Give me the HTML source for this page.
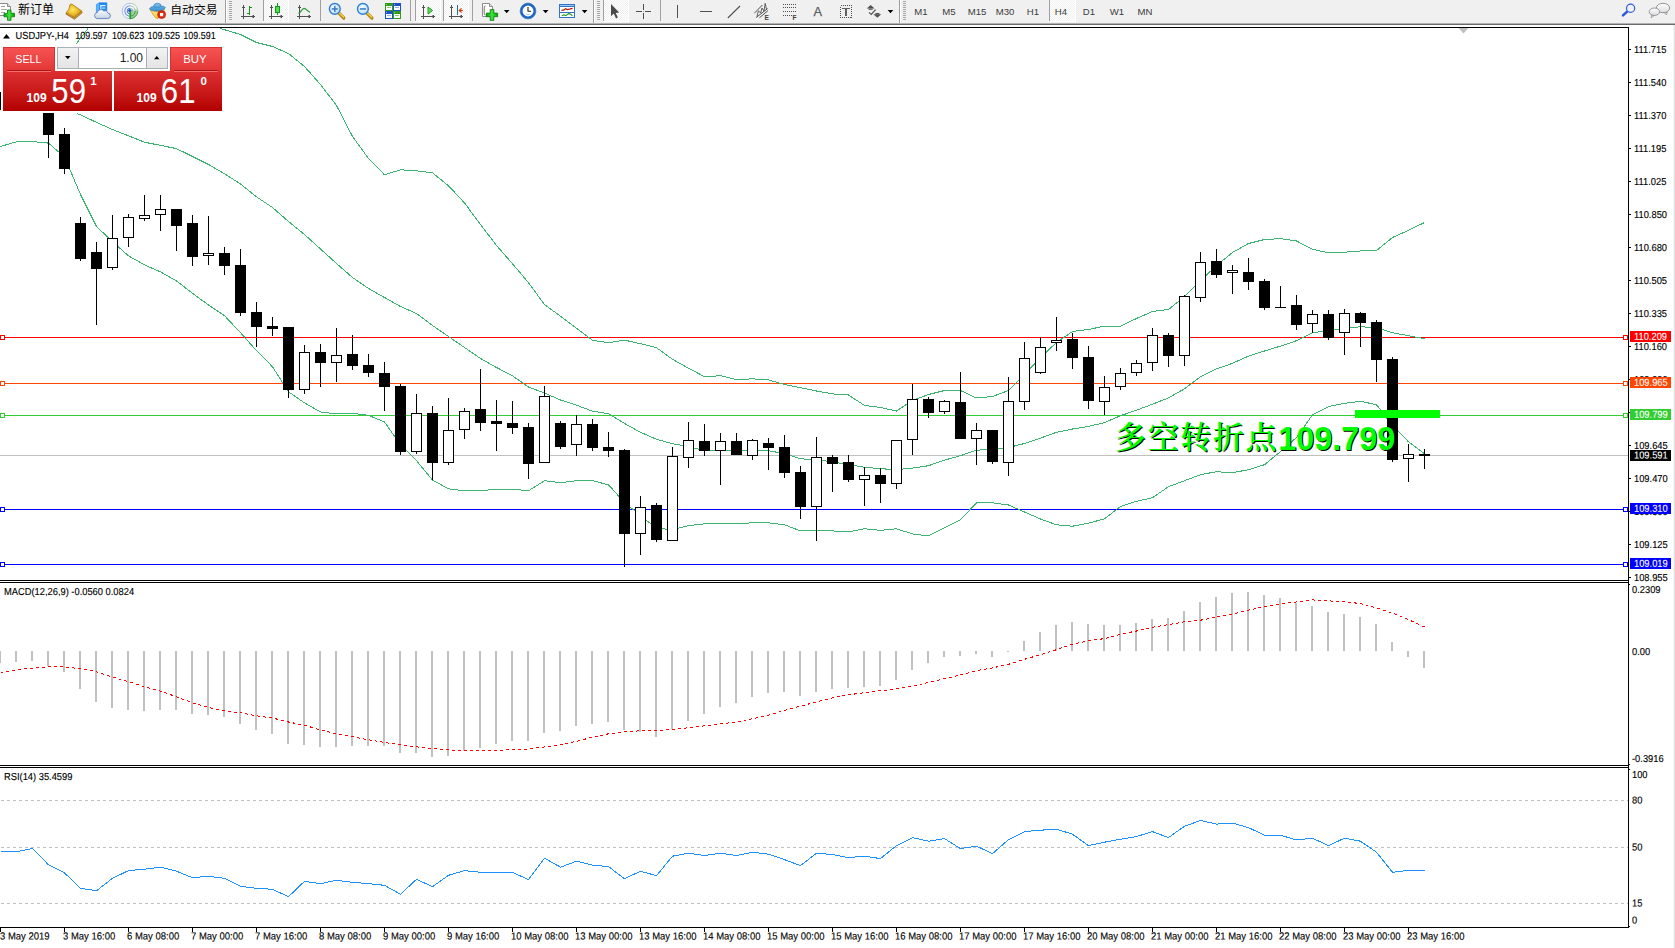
<!DOCTYPE html>
<html lang="zh"><head><meta charset="utf-8"><title>USDJPY-,H4</title>
<style>
html,body{margin:0;padding:0;background:#fff}
body{width:1675px;height:948px;overflow:hidden}
svg{display:block}
text{font-family:"Liberation Sans","Noto Sans CJK SC",sans-serif;white-space:pre}
</style></head><body>
<svg width="1675" height="948" viewBox="0 0 1675 948">
<rect x="0" y="0" width="1675" height="948" fill="#fff"/>
<defs><clipPath id="cm"><rect x="0" y="28" width="1628" height="552"/></clipPath></defs>
<g shape-rendering="crispEdges">
<rect x="0" y="27" width="1629" height="1" fill="#000"/>
<rect x="1628" y="27" width="1" height="901" fill="#000"/>
<rect x="0" y="580" width="1629" height="1" fill="#000"/>
<rect x="0" y="582" width="1629" height="1" fill="#000"/>
<rect x="0" y="765" width="1629" height="1" fill="#000"/>
<rect x="0" y="767" width="1629" height="1" fill="#000"/>
<rect x="0" y="927" width="1629" height="1" fill="#000"/>
<rect x="1629" y="584" width="1" height="1" fill="#000"/>
<rect x="1629" y="764" width="1" height="1" fill="#000"/>
<rect x="1629" y="769" width="1" height="1" fill="#000"/>
<rect x="1629" y="926" width="1" height="1" fill="#000"/>
<rect x="1673" y="25" width="1" height="923" fill="#f6f6f6"/>
<rect x="1674" y="25" width="1" height="923" fill="#e2e2e2"/>
<polygon points="1458.5,28 1468.5,28 1463.5,33.5" fill="#c0c0c0" shape-rendering="geometricPrecision"/>
<rect x="1629" y="49" width="2" height="1" fill="#000"/>
<rect x="1629" y="82" width="2" height="1" fill="#000"/>
<rect x="1629" y="115" width="2" height="1" fill="#000"/>
<rect x="1629" y="148" width="2" height="1" fill="#000"/>
<rect x="1629" y="181" width="2" height="1" fill="#000"/>
<rect x="1629" y="214" width="2" height="1" fill="#000"/>
<rect x="1629" y="247" width="2" height="1" fill="#000"/>
<rect x="1629" y="280" width="2" height="1" fill="#000"/>
<rect x="1629" y="313" width="2" height="1" fill="#000"/>
<rect x="1629" y="346" width="2" height="1" fill="#000"/>
<rect x="1629" y="379" width="2" height="1" fill="#000"/>
<rect x="1629" y="412" width="2" height="1" fill="#000"/>
<rect x="1629" y="445" width="2" height="1" fill="#000"/>
<rect x="1629" y="478" width="2" height="1" fill="#000"/>
<rect x="1629" y="511" width="2" height="1" fill="#000"/>
<rect x="1629" y="544" width="2" height="1" fill="#000"/>
<rect x="1629" y="577" width="2" height="1" fill="#000"/>
</g>
<text transform="translate(1634,53.0) rotate(0.03) scale(1,1.08)" font-size="9.33" fill="#000" stroke="#000" stroke-width="0.12" text-anchor="start">111.715</text>
<text transform="translate(1634,86.0) rotate(0.03) scale(1,1.08)" font-size="9.33" fill="#000" stroke="#000" stroke-width="0.12" text-anchor="start">111.540</text>
<text transform="translate(1634,119.0) rotate(0.03) scale(1,1.08)" font-size="9.33" fill="#000" stroke="#000" stroke-width="0.12" text-anchor="start">111.370</text>
<text transform="translate(1634,152.0) rotate(0.03) scale(1,1.08)" font-size="9.33" fill="#000" stroke="#000" stroke-width="0.12" text-anchor="start">111.195</text>
<text transform="translate(1634,185.0) rotate(0.03) scale(1,1.08)" font-size="9.33" fill="#000" stroke="#000" stroke-width="0.12" text-anchor="start">111.025</text>
<text transform="translate(1634,218.0) rotate(0.03) scale(1,1.08)" font-size="9.33" fill="#000" stroke="#000" stroke-width="0.12" text-anchor="start">110.850</text>
<text transform="translate(1634,251.0) rotate(0.03) scale(1,1.08)" font-size="9.33" fill="#000" stroke="#000" stroke-width="0.12" text-anchor="start">110.680</text>
<text transform="translate(1634,284.0) rotate(0.03) scale(1,1.08)" font-size="9.33" fill="#000" stroke="#000" stroke-width="0.12" text-anchor="start">110.505</text>
<text transform="translate(1634,317.0) rotate(0.03) scale(1,1.08)" font-size="9.33" fill="#000" stroke="#000" stroke-width="0.12" text-anchor="start">110.335</text>
<text transform="translate(1634,350.0) rotate(0.03) scale(1,1.08)" font-size="9.33" fill="#000" stroke="#000" stroke-width="0.12" text-anchor="start">110.160</text>
<text transform="translate(1634,383.0) rotate(0.03) scale(1,1.08)" font-size="9.33" fill="#000" stroke="#000" stroke-width="0.12" text-anchor="start">109.990</text>
<text transform="translate(1634,416.0) rotate(0.03) scale(1,1.08)" font-size="9.33" fill="#000" stroke="#000" stroke-width="0.12" text-anchor="start">109.815</text>
<text transform="translate(1634,449.0) rotate(0.03) scale(1,1.08)" font-size="9.33" fill="#000" stroke="#000" stroke-width="0.12" text-anchor="start">109.645</text>
<text transform="translate(1634,482.0) rotate(0.03) scale(1,1.08)" font-size="9.33" fill="#000" stroke="#000" stroke-width="0.12" text-anchor="start">109.470</text>
<text transform="translate(1634,515.0) rotate(0.03) scale(1,1.08)" font-size="9.33" fill="#000" stroke="#000" stroke-width="0.12" text-anchor="start">109.300</text>
<text transform="translate(1634,548.0) rotate(0.03) scale(1,1.08)" font-size="9.33" fill="#000" stroke="#000" stroke-width="0.12" text-anchor="start">109.125</text>
<text transform="translate(1634,581.0) rotate(0.03) scale(1,1.08)" font-size="9.33" fill="#000" stroke="#000" stroke-width="0.12" text-anchor="start">108.955</text>
<text transform="translate(1632,593) rotate(0.03) scale(1,1.08)" font-size="9.33" fill="#000" stroke="#000" stroke-width="0.12" text-anchor="start">0.2309</text>
<text transform="translate(1632,655) rotate(0.03) scale(1,1.08)" font-size="9.33" fill="#000" stroke="#000" stroke-width="0.12" text-anchor="start">0.00</text>
<text transform="translate(1632,762) rotate(0.03) scale(1,1.08)" font-size="9.33" fill="#000" stroke="#000" stroke-width="0.12" text-anchor="start">-0.3916</text>
<text transform="translate(1632,778) rotate(0.03) scale(1,1.08)" font-size="9.33" fill="#000" stroke="#000" stroke-width="0.12" text-anchor="start">100</text>
<text transform="translate(1632,803.5) rotate(0.03) scale(1,1.08)" font-size="9.33" fill="#000" stroke="#000" stroke-width="0.12" text-anchor="start">80</text>
<text transform="translate(1632,850.5) rotate(0.03) scale(1,1.08)" font-size="9.33" fill="#000" stroke="#000" stroke-width="0.12" text-anchor="start">50</text>
<text transform="translate(1632,906.5) rotate(0.03) scale(1,1.08)" font-size="9.33" fill="#000" stroke="#000" stroke-width="0.12" text-anchor="start">15</text>
<text transform="translate(1632,923.5) rotate(0.03) scale(1,1.08)" font-size="9.33" fill="#000" stroke="#000" stroke-width="0.12" text-anchor="start">0</text>
<g shape-rendering="crispEdges">
<rect x="0" y="455" width="1628" height="1" fill="#c0c0c0"/>
<rect x="0" y="337" width="1628" height="1" fill="#ff0000"/>
<rect x="0" y="383" width="1628" height="1" fill="#ff4500"/>
<rect x="0" y="415" width="1628" height="1" fill="#32cd32"/>
<rect x="0" y="509" width="1628" height="1" fill="#0000ff"/>
<rect x="0" y="564" width="1628" height="1" fill="#0000ff"/>
</g>
<g clip-path="url(#cm)" shape-rendering="crispEdges">
<polyline points="75.7,44.4 88.2,28.3" fill="none" stroke="#3cb371" stroke-width="1"/>
<polyline points="220.5,28.5 224.5,29.7 240.5,34.5 256.5,42.5 272.5,46.5 288.5,53.5 304.5,66.5 320.5,84.5 336.5,105.5 352.5,136.5 368.5,158.5 384.5,174.8 400.5,169.8 416.5,170.8 432.5,172.8 448.5,185.8 464.5,202.9 480.5,224.5 496.5,245.5 512.5,263.8 528.5,282.7 544.5,304.6 560.5,316.2 576.5,328.3 592.5,340.3 608.5,342.7 624.5,340.1 640.5,343.7 656.5,347.7 672.5,359.3 688.5,368.2 704.5,376.7 720.5,375.7 736.5,379.7 752.5,378.8 768.5,379.9 784.5,384.5 800.5,387.7 816.5,391.0 832.5,393.9 848.5,395.0 864.5,405.5 880.5,407.5 896.5,411.0 912.5,400.5 928.5,394.5 944.5,390.5 960.5,390.5 976.5,398.0 992.5,396.5 1008.5,390.5 1024.5,374.5 1040.5,357.5 1056.5,342.5 1072.5,331.5 1088.5,329.5 1104.5,326.1 1120.5,326.1 1136.5,318.5 1152.5,311.5 1168.5,309.5 1184.5,296.5 1200.5,280.7 1216.5,265.6 1232.5,252.5 1248.5,243.5 1264.5,239.5 1280.5,238.7 1296.5,241.0 1312.5,249.3 1328.5,252.8 1344.5,252.2 1360.5,251.0 1376.5,250.6 1392.5,237.5 1408.5,230.3 1424.5,222.5" fill="none" stroke="#3cb371" stroke-width="1"/>
<polyline points="77.0,113.7 80.5,114.8 96.5,122.4 112.5,129.5 128.5,135.8 144.5,142.2 160.5,145.4 176.5,148.6 192.5,156.5 208.5,164.5 224.5,173.8 240.5,184.0 256.5,196.9 272.5,207.5 288.5,221.5 304.5,234.5 320.5,249.0 336.5,263.5 352.5,277.5 368.5,288.5 384.5,297.5 400.5,306.5 416.5,313.5 432.5,325.5 448.5,336.5 464.5,347.5 480.5,358.5 496.5,367.5 512.5,375.8 528.5,387.0 544.5,393.0 560.5,400.0 576.5,405.2 592.5,411.2 608.5,413.7 624.5,423.5 640.5,432.3 656.5,439.3 672.5,443.7 688.5,446.5 704.5,450.7 720.5,449.7 736.5,450.7 752.5,449.7 768.5,450.7 784.5,453.7 800.5,458.7 816.5,460.1 832.5,461.7 848.5,464.7 864.5,467.3 880.5,468.7 896.5,469.7 912.5,468.1 928.5,465.7 944.5,460.1 960.5,455.7 976.5,450.1 992.5,449.7 1008.5,447.5 1024.5,443.5 1040.5,438.1 1056.5,432.3 1072.5,429.0 1088.5,426.4 1104.5,422.6 1120.5,415.7 1136.5,410.2 1152.5,404.2 1168.5,397.9 1184.5,388.8 1200.5,376.8 1216.5,368.9 1232.5,363.3 1248.5,356.1 1264.5,351.0 1280.5,346.1 1296.5,340.7 1312.5,332.9 1328.5,330.1 1344.5,328.7 1360.5,326.7 1376.5,327.7 1392.5,332.7 1408.5,335.7 1424.5,338.7" fill="none" stroke="#3cb371" stroke-width="1"/>
<polyline points="0.5,146.5 16.5,141.8 32.5,141.6 48.5,143.1 64.5,157.0 80.5,194.5 96.5,226.5 112.5,241.8 128.5,255.8 144.5,264.9 160.5,271.9 176.5,280.9 192.5,293.3 208.5,305.0 224.5,315.7 240.5,332.7 256.5,350.7 272.5,366.8 288.5,391.8 304.5,402.9 320.5,411.9 336.5,413.9 352.5,413.3 368.5,415.3 384.5,422.0 400.5,444.8 416.5,460.7 432.5,480.1 448.5,488.8 464.5,490.8 480.5,490.8 496.5,489.2 512.5,489.2 528.5,490.8 544.5,480.7 560.5,482.7 576.5,480.7 592.5,480.7 608.5,484.8 624.5,502.5 640.5,515.5 656.5,528.5 672.5,529.5 688.5,525.7 704.5,523.8 720.5,523.8 736.5,523.8 752.5,522.8 768.5,522.8 784.5,524.8 800.5,530.9 816.5,530.9 832.5,530.9 848.5,531.9 864.5,528.8 880.5,530.3 896.5,528.8 912.5,533.9 928.5,535.9 944.5,527.8 960.5,519.8 976.5,502.8 992.5,502.8 1008.5,505.0 1024.5,512.0 1040.5,519.0 1056.5,524.8 1072.5,526.2 1088.5,523.2 1104.5,518.8 1120.5,506.5 1136.5,501.3 1152.5,497.7 1168.5,486.7 1184.5,480.7 1200.5,474.7 1216.5,471.7 1232.5,472.7 1248.5,469.7 1264.5,464.7 1280.5,451.6 1296.5,437.5 1312.5,414.8 1328.5,406.6 1344.5,403.3 1360.5,401.3 1376.5,404.7 1392.5,425.5 1408.5,441.8 1424.5,453.8" fill="none" stroke="#3cb371" stroke-width="1"/>
</g>
<g shape-rendering="crispEdges">
<rect x="0" y="92" width="1" height="18" fill="#000"/>
<rect x="0" y="92" width="1" height="18" fill="#000"/>
<rect x="48" y="113" width="1" height="45" fill="#000"/>
<rect x="43" y="113" width="11" height="22" fill="#000"/>
<rect x="64" y="128" width="1" height="46" fill="#000"/>
<rect x="59" y="134" width="11" height="35" fill="#000"/>
<rect x="80" y="217" width="1" height="44" fill="#000"/>
<rect x="75" y="223" width="11" height="36" fill="#000"/>
<rect x="96" y="242" width="1" height="83" fill="#000"/>
<rect x="91" y="252" width="11" height="17" fill="#000"/>
<rect x="112" y="215" width="1" height="55" fill="#000"/>
<rect x="107" y="238" width="11" height="30" fill="#000"/>
<rect x="108" y="239" width="9" height="28" fill="#fff"/>
<rect x="128" y="214" width="1" height="33" fill="#000"/>
<rect x="123" y="217" width="11" height="21" fill="#000"/>
<rect x="124" y="218" width="9" height="19" fill="#fff"/>
<rect x="144" y="195" width="1" height="26" fill="#000"/>
<rect x="139" y="215" width="11" height="4" fill="#000"/>
<rect x="140" y="216" width="9" height="2" fill="#fff"/>
<rect x="160" y="195" width="1" height="36" fill="#000"/>
<rect x="155" y="209" width="11" height="6" fill="#000"/>
<rect x="156" y="210" width="9" height="4" fill="#fff"/>
<rect x="176" y="209" width="1" height="42" fill="#000"/>
<rect x="171" y="209" width="11" height="17" fill="#000"/>
<rect x="192" y="215" width="1" height="51" fill="#000"/>
<rect x="187" y="223" width="11" height="34" fill="#000"/>
<rect x="208" y="216" width="1" height="49" fill="#000"/>
<rect x="203" y="253" width="11" height="3" fill="#000"/>
<rect x="204" y="254" width="9" height="1" fill="#fff"/>
<rect x="224" y="247" width="1" height="28" fill="#000"/>
<rect x="219" y="253" width="11" height="13" fill="#000"/>
<rect x="240" y="249" width="1" height="67" fill="#000"/>
<rect x="235" y="265" width="11" height="48" fill="#000"/>
<rect x="256" y="302" width="1" height="45" fill="#000"/>
<rect x="251" y="312" width="11" height="15" fill="#000"/>
<rect x="272" y="317" width="1" height="19" fill="#000"/>
<rect x="267" y="326" width="11" height="3" fill="#000"/>
<rect x="288" y="327" width="1" height="71" fill="#000"/>
<rect x="283" y="327" width="11" height="63" fill="#000"/>
<rect x="304" y="345" width="1" height="49" fill="#000"/>
<rect x="299" y="352" width="11" height="38" fill="#000"/>
<rect x="300" y="353" width="9" height="36" fill="#fff"/>
<rect x="320" y="344" width="1" height="43" fill="#000"/>
<rect x="315" y="352" width="11" height="11" fill="#000"/>
<rect x="336" y="328" width="1" height="54" fill="#000"/>
<rect x="331" y="355" width="11" height="8" fill="#000"/>
<rect x="332" y="356" width="9" height="6" fill="#fff"/>
<rect x="352" y="335" width="1" height="35" fill="#000"/>
<rect x="347" y="354" width="11" height="12" fill="#000"/>
<rect x="368" y="354" width="1" height="23" fill="#000"/>
<rect x="363" y="365" width="11" height="8" fill="#000"/>
<rect x="384" y="362" width="1" height="49" fill="#000"/>
<rect x="379" y="373" width="11" height="14" fill="#000"/>
<rect x="400" y="384" width="1" height="71" fill="#000"/>
<rect x="395" y="386" width="11" height="66" fill="#000"/>
<rect x="416" y="394" width="1" height="60" fill="#000"/>
<rect x="411" y="413" width="11" height="39" fill="#000"/>
<rect x="412" y="414" width="9" height="37" fill="#fff"/>
<rect x="432" y="406" width="1" height="74" fill="#000"/>
<rect x="427" y="413" width="11" height="50" fill="#000"/>
<rect x="448" y="398" width="1" height="67" fill="#000"/>
<rect x="443" y="430" width="11" height="33" fill="#000"/>
<rect x="444" y="431" width="9" height="31" fill="#fff"/>
<rect x="464" y="408" width="1" height="31" fill="#000"/>
<rect x="459" y="411" width="11" height="19" fill="#000"/>
<rect x="460" y="412" width="9" height="17" fill="#fff"/>
<rect x="480" y="369" width="1" height="62" fill="#000"/>
<rect x="475" y="409" width="11" height="14" fill="#000"/>
<rect x="496" y="400" width="1" height="51" fill="#000"/>
<rect x="491" y="421" width="11" height="3" fill="#000"/>
<rect x="512" y="401" width="1" height="33" fill="#000"/>
<rect x="507" y="423" width="11" height="5" fill="#000"/>
<rect x="528" y="423" width="1" height="56" fill="#000"/>
<rect x="523" y="427" width="11" height="37" fill="#000"/>
<rect x="544" y="386" width="1" height="77" fill="#000"/>
<rect x="539" y="396" width="11" height="67" fill="#000"/>
<rect x="540" y="397" width="9" height="65" fill="#fff"/>
<rect x="560" y="421" width="1" height="28" fill="#000"/>
<rect x="555" y="423" width="11" height="24" fill="#000"/>
<rect x="576" y="415" width="1" height="41" fill="#000"/>
<rect x="571" y="424" width="11" height="21" fill="#000"/>
<rect x="572" y="425" width="9" height="19" fill="#fff"/>
<rect x="592" y="419" width="1" height="32" fill="#000"/>
<rect x="587" y="424" width="11" height="24" fill="#000"/>
<rect x="608" y="432" width="1" height="25" fill="#000"/>
<rect x="603" y="447" width="11" height="4" fill="#000"/>
<rect x="624" y="449" width="1" height="118" fill="#000"/>
<rect x="619" y="450" width="11" height="84" fill="#000"/>
<rect x="640" y="496" width="1" height="59" fill="#000"/>
<rect x="635" y="507" width="11" height="27" fill="#000"/>
<rect x="636" y="508" width="9" height="25" fill="#fff"/>
<rect x="656" y="503" width="1" height="39" fill="#000"/>
<rect x="651" y="505" width="11" height="35" fill="#000"/>
<rect x="672" y="447" width="1" height="94" fill="#000"/>
<rect x="667" y="456" width="11" height="85" fill="#000"/>
<rect x="668" y="457" width="9" height="83" fill="#fff"/>
<rect x="688" y="422" width="1" height="46" fill="#000"/>
<rect x="683" y="440" width="11" height="18" fill="#000"/>
<rect x="684" y="441" width="9" height="16" fill="#fff"/>
<rect x="704" y="424" width="1" height="32" fill="#000"/>
<rect x="699" y="441" width="11" height="10" fill="#000"/>
<rect x="720" y="433" width="1" height="52" fill="#000"/>
<rect x="715" y="441" width="11" height="10" fill="#000"/>
<rect x="716" y="442" width="9" height="8" fill="#fff"/>
<rect x="736" y="433" width="1" height="22" fill="#000"/>
<rect x="731" y="441" width="11" height="14" fill="#000"/>
<rect x="752" y="439" width="1" height="21" fill="#000"/>
<rect x="747" y="440" width="11" height="16" fill="#000"/>
<rect x="748" y="441" width="9" height="14" fill="#fff"/>
<rect x="768" y="438" width="1" height="32" fill="#000"/>
<rect x="763" y="443" width="11" height="5" fill="#000"/>
<rect x="784" y="435" width="1" height="43" fill="#000"/>
<rect x="779" y="447" width="11" height="26" fill="#000"/>
<rect x="800" y="466" width="1" height="53" fill="#000"/>
<rect x="795" y="472" width="11" height="35" fill="#000"/>
<rect x="816" y="437" width="1" height="104" fill="#000"/>
<rect x="811" y="457" width="11" height="50" fill="#000"/>
<rect x="812" y="458" width="9" height="48" fill="#fff"/>
<rect x="832" y="455" width="1" height="37" fill="#000"/>
<rect x="827" y="457" width="11" height="7" fill="#000"/>
<rect x="848" y="455" width="1" height="27" fill="#000"/>
<rect x="843" y="462" width="11" height="18" fill="#000"/>
<rect x="864" y="467" width="1" height="39" fill="#000"/>
<rect x="859" y="475" width="11" height="5" fill="#000"/>
<rect x="860" y="476" width="9" height="3" fill="#fff"/>
<rect x="880" y="468" width="1" height="35" fill="#000"/>
<rect x="875" y="475" width="11" height="9" fill="#000"/>
<rect x="896" y="440" width="1" height="49" fill="#000"/>
<rect x="891" y="440" width="11" height="44" fill="#000"/>
<rect x="892" y="441" width="9" height="42" fill="#fff"/>
<rect x="912" y="384" width="1" height="71" fill="#000"/>
<rect x="907" y="399" width="11" height="41" fill="#000"/>
<rect x="908" y="400" width="9" height="39" fill="#fff"/>
<rect x="928" y="397" width="1" height="21" fill="#000"/>
<rect x="923" y="399" width="11" height="14" fill="#000"/>
<rect x="944" y="400" width="1" height="14" fill="#000"/>
<rect x="939" y="401" width="11" height="11" fill="#000"/>
<rect x="940" y="402" width="9" height="9" fill="#fff"/>
<rect x="960" y="372" width="1" height="67" fill="#000"/>
<rect x="955" y="402" width="11" height="37" fill="#000"/>
<rect x="976" y="423" width="1" height="42" fill="#000"/>
<rect x="971" y="430" width="11" height="9" fill="#000"/>
<rect x="972" y="431" width="9" height="7" fill="#fff"/>
<rect x="992" y="430" width="1" height="34" fill="#000"/>
<rect x="987" y="430" width="11" height="32" fill="#000"/>
<rect x="1008" y="377" width="1" height="99" fill="#000"/>
<rect x="1003" y="401" width="11" height="62" fill="#000"/>
<rect x="1004" y="402" width="9" height="60" fill="#fff"/>
<rect x="1024" y="342" width="1" height="68" fill="#000"/>
<rect x="1019" y="358" width="11" height="44" fill="#000"/>
<rect x="1020" y="359" width="9" height="42" fill="#fff"/>
<rect x="1040" y="337" width="1" height="37" fill="#000"/>
<rect x="1035" y="347" width="11" height="26" fill="#000"/>
<rect x="1036" y="348" width="9" height="24" fill="#fff"/>
<rect x="1056" y="317" width="1" height="34" fill="#000"/>
<rect x="1051" y="340" width="11" height="3" fill="#000"/>
<rect x="1052" y="341" width="9" height="1" fill="#fff"/>
<rect x="1072" y="333" width="1" height="36" fill="#000"/>
<rect x="1067" y="339" width="11" height="19" fill="#000"/>
<rect x="1088" y="346" width="1" height="63" fill="#000"/>
<rect x="1083" y="357" width="11" height="44" fill="#000"/>
<rect x="1104" y="376" width="1" height="39" fill="#000"/>
<rect x="1099" y="387" width="11" height="15" fill="#000"/>
<rect x="1100" y="388" width="9" height="13" fill="#fff"/>
<rect x="1120" y="368" width="1" height="22" fill="#000"/>
<rect x="1115" y="373" width="11" height="14" fill="#000"/>
<rect x="1116" y="374" width="9" height="12" fill="#fff"/>
<rect x="1136" y="360" width="1" height="16" fill="#000"/>
<rect x="1131" y="363" width="11" height="10" fill="#000"/>
<rect x="1132" y="364" width="9" height="8" fill="#fff"/>
<rect x="1152" y="328" width="1" height="43" fill="#000"/>
<rect x="1147" y="335" width="11" height="28" fill="#000"/>
<rect x="1148" y="336" width="9" height="26" fill="#fff"/>
<rect x="1168" y="333" width="1" height="34" fill="#000"/>
<rect x="1163" y="335" width="11" height="21" fill="#000"/>
<rect x="1184" y="295" width="1" height="71" fill="#000"/>
<rect x="1179" y="296" width="11" height="60" fill="#000"/>
<rect x="1180" y="297" width="9" height="58" fill="#fff"/>
<rect x="1200" y="252" width="1" height="50" fill="#000"/>
<rect x="1195" y="262" width="11" height="36" fill="#000"/>
<rect x="1196" y="263" width="9" height="34" fill="#fff"/>
<rect x="1216" y="249" width="1" height="29" fill="#000"/>
<rect x="1211" y="261" width="11" height="14" fill="#000"/>
<rect x="1232" y="265" width="1" height="29" fill="#000"/>
<rect x="1227" y="270" width="11" height="3" fill="#000"/>
<rect x="1228" y="271" width="9" height="1" fill="#fff"/>
<rect x="1248" y="258" width="1" height="32" fill="#000"/>
<rect x="1243" y="272" width="11" height="10" fill="#000"/>
<rect x="1264" y="279" width="1" height="31" fill="#000"/>
<rect x="1259" y="281" width="11" height="27" fill="#000"/>
<rect x="1280" y="286" width="1" height="22" fill="#000"/>
<rect x="1275" y="307" width="11" height="1" fill="#000"/>
<rect x="1296" y="295" width="1" height="35" fill="#000"/>
<rect x="1291" y="305" width="11" height="20" fill="#000"/>
<rect x="1312" y="310" width="1" height="23" fill="#000"/>
<rect x="1307" y="314" width="11" height="10" fill="#000"/>
<rect x="1308" y="315" width="9" height="8" fill="#fff"/>
<rect x="1328" y="310" width="1" height="30" fill="#000"/>
<rect x="1323" y="314" width="11" height="24" fill="#000"/>
<rect x="1344" y="309" width="1" height="46" fill="#000"/>
<rect x="1339" y="313" width="11" height="20" fill="#000"/>
<rect x="1340" y="314" width="9" height="18" fill="#fff"/>
<rect x="1360" y="312" width="1" height="35" fill="#000"/>
<rect x="1355" y="313" width="11" height="10" fill="#000"/>
<rect x="1376" y="320" width="1" height="62" fill="#000"/>
<rect x="1371" y="322" width="11" height="38" fill="#000"/>
<rect x="1392" y="357" width="1" height="105" fill="#000"/>
<rect x="1387" y="359" width="11" height="101" fill="#000"/>
<rect x="1408" y="444" width="1" height="38" fill="#000"/>
<rect x="1403" y="454" width="11" height="5" fill="#000"/>
<rect x="1404" y="455" width="9" height="3" fill="#fff"/>
<rect x="1424" y="449" width="1" height="20" fill="#000"/>
<rect x="1419" y="454" width="11" height="2" fill="#000"/>
</g>
<g shape-rendering="crispEdges">
<rect x="0" y="335" width="5" height="5" fill="#ff0000"/>
<rect x="1" y="336" width="3" height="3" fill="#fff"/>
<rect x="1623" y="335" width="5" height="5" fill="#ff0000"/>
<rect x="1624" y="336" width="3" height="3" fill="#fff"/>
<rect x="0" y="381" width="5" height="5" fill="#ff4500"/>
<rect x="1" y="382" width="3" height="3" fill="#fff"/>
<rect x="1623" y="381" width="5" height="5" fill="#ff4500"/>
<rect x="1624" y="382" width="3" height="3" fill="#fff"/>
<rect x="0" y="413" width="5" height="5" fill="#32cd32"/>
<rect x="1" y="414" width="3" height="3" fill="#fff"/>
<rect x="1623" y="413" width="5" height="5" fill="#32cd32"/>
<rect x="1624" y="414" width="3" height="3" fill="#fff"/>
<rect x="0" y="507" width="5" height="5" fill="#0000ff"/>
<rect x="1" y="508" width="3" height="3" fill="#fff"/>
<rect x="1623" y="507" width="5" height="5" fill="#0000ff"/>
<rect x="1624" y="508" width="3" height="3" fill="#fff"/>
<rect x="0" y="562" width="5" height="5" fill="#0000ff"/>
<rect x="1" y="563" width="3" height="3" fill="#fff"/>
<rect x="1623" y="562" width="5" height="5" fill="#0000ff"/>
<rect x="1624" y="563" width="3" height="3" fill="#fff"/>
</g>
<g shape-rendering="crispEdges">
<rect x="1355" y="410" width="85" height="8" fill="#00ff00"/>
</g>
<text x="1116" y="451" fill="#000"><tspan dy="-1.6" font-size="31" font-weight="600" letter-spacing="1.65" style="font-family:'Noto Serif CJK SC',serif">多空转折点</tspan><tspan dy="1.6" font-size="32.4" font-weight="bold" style="font-family:'Liberation Sans',sans-serif">109.799</tspan></text>
<text x="1115" y="450" fill="#00ff00"><tspan dy="-1.6" font-size="31" font-weight="600" letter-spacing="1.65" style="font-family:'Noto Serif CJK SC',serif">多空转折点</tspan><tspan dy="1.6" font-size="32.4" font-weight="bold" style="font-family:'Liberation Sans',sans-serif">109.799</tspan></text>
<g shape-rendering="crispEdges">
<rect x="1630" y="331" width="41" height="11" fill="#ff0000"/>
<rect x="1630" y="377" width="41" height="11" fill="#ff4500"/>
<rect x="1630" y="409" width="41" height="11" fill="#32cd32"/>
<rect x="1630" y="503" width="41" height="11" fill="#0000ff"/>
<rect x="1630" y="558" width="41" height="11" fill="#0000ff"/>
<rect x="1630" y="450" width="41" height="11" fill="#000"/>
</g>
<text transform="translate(1634,339.7) rotate(0.03) scale(1,1.08)" font-size="9.33" fill="#fff" stroke="#fff" stroke-width="0.08" text-anchor="start">110.209</text>
<text transform="translate(1634,385.7) rotate(0.03) scale(1,1.08)" font-size="9.33" fill="#fff" stroke="#fff" stroke-width="0.08" text-anchor="start">109.965</text>
<text transform="translate(1634,417.7) rotate(0.03) scale(1,1.08)" font-size="9.33" fill="#fff" stroke="#fff" stroke-width="0.08" text-anchor="start">109.799</text>
<text transform="translate(1634,511.7) rotate(0.03) scale(1,1.08)" font-size="9.33" fill="#fff" stroke="#fff" stroke-width="0.08" text-anchor="start">109.310</text>
<text transform="translate(1634,566.7) rotate(0.03) scale(1,1.08)" font-size="9.33" fill="#fff" stroke="#fff" stroke-width="0.08" text-anchor="start">109.019</text>
<text transform="translate(1634,458.6) rotate(0.03) scale(1,1.08)" font-size="9.33" fill="#fff" stroke="#fff" stroke-width="0.08" text-anchor="start">109.591</text>
<g shape-rendering="crispEdges">
<rect x="0" y="651" width="1" height="12" fill="#c0c0c0"/>
<rect x="15" y="651" width="2" height="11" fill="#c0c0c0"/>
<rect x="31" y="651" width="2" height="10" fill="#c0c0c0"/>
<rect x="47" y="651" width="2" height="15" fill="#c0c0c0"/>
<rect x="63" y="651" width="2" height="21" fill="#c0c0c0"/>
<rect x="79" y="651" width="2" height="38" fill="#c0c0c0"/>
<rect x="95" y="651" width="2" height="51" fill="#c0c0c0"/>
<rect x="111" y="651" width="2" height="57" fill="#c0c0c0"/>
<rect x="127" y="651" width="2" height="59" fill="#c0c0c0"/>
<rect x="143" y="651" width="2" height="60" fill="#c0c0c0"/>
<rect x="159" y="651" width="2" height="59" fill="#c0c0c0"/>
<rect x="175" y="651" width="2" height="59" fill="#c0c0c0"/>
<rect x="191" y="651" width="2" height="63" fill="#c0c0c0"/>
<rect x="207" y="651" width="2" height="64" fill="#c0c0c0"/>
<rect x="223" y="651" width="2" height="66" fill="#c0c0c0"/>
<rect x="239" y="651" width="2" height="73" fill="#c0c0c0"/>
<rect x="255" y="651" width="2" height="79" fill="#c0c0c0"/>
<rect x="271" y="651" width="2" height="83" fill="#c0c0c0"/>
<rect x="287" y="651" width="2" height="93" fill="#c0c0c0"/>
<rect x="303" y="651" width="2" height="94" fill="#c0c0c0"/>
<rect x="319" y="651" width="2" height="96" fill="#c0c0c0"/>
<rect x="335" y="651" width="2" height="96" fill="#c0c0c0"/>
<rect x="351" y="651" width="2" height="95" fill="#c0c0c0"/>
<rect x="367" y="651" width="2" height="95" fill="#c0c0c0"/>
<rect x="383" y="651" width="2" height="95" fill="#c0c0c0"/>
<rect x="399" y="651" width="2" height="102" fill="#c0c0c0"/>
<rect x="415" y="651" width="2" height="102" fill="#c0c0c0"/>
<rect x="431" y="651" width="2" height="106" fill="#c0c0c0"/>
<rect x="447" y="651" width="2" height="105" fill="#c0c0c0"/>
<rect x="463" y="651" width="2" height="100" fill="#c0c0c0"/>
<rect x="479" y="651" width="2" height="97" fill="#c0c0c0"/>
<rect x="495" y="651" width="2" height="93" fill="#c0c0c0"/>
<rect x="511" y="651" width="2" height="90" fill="#c0c0c0"/>
<rect x="527" y="651" width="2" height="90" fill="#c0c0c0"/>
<rect x="543" y="651" width="2" height="82" fill="#c0c0c0"/>
<rect x="559" y="651" width="2" height="80" fill="#c0c0c0"/>
<rect x="575" y="651" width="2" height="75" fill="#c0c0c0"/>
<rect x="591" y="651" width="2" height="73" fill="#c0c0c0"/>
<rect x="607" y="651" width="2" height="71" fill="#c0c0c0"/>
<rect x="623" y="651" width="2" height="79" fill="#c0c0c0"/>
<rect x="639" y="651" width="2" height="81" fill="#c0c0c0"/>
<rect x="655" y="651" width="2" height="86" fill="#c0c0c0"/>
<rect x="671" y="651" width="2" height="78" fill="#c0c0c0"/>
<rect x="687" y="651" width="2" height="70" fill="#c0c0c0"/>
<rect x="703" y="651" width="2" height="63" fill="#c0c0c0"/>
<rect x="719" y="651" width="2" height="56" fill="#c0c0c0"/>
<rect x="735" y="651" width="2" height="52" fill="#c0c0c0"/>
<rect x="751" y="651" width="2" height="46" fill="#c0c0c0"/>
<rect x="767" y="651" width="2" height="42" fill="#c0c0c0"/>
<rect x="783" y="651" width="2" height="41" fill="#c0c0c0"/>
<rect x="799" y="651" width="2" height="45" fill="#c0c0c0"/>
<rect x="815" y="651" width="2" height="41" fill="#c0c0c0"/>
<rect x="831" y="651" width="2" height="38" fill="#c0c0c0"/>
<rect x="847" y="651" width="2" height="37" fill="#c0c0c0"/>
<rect x="863" y="651" width="2" height="36" fill="#c0c0c0"/>
<rect x="879" y="651" width="2" height="35" fill="#c0c0c0"/>
<rect x="895" y="651" width="2" height="29" fill="#c0c0c0"/>
<rect x="911" y="651" width="2" height="19" fill="#c0c0c0"/>
<rect x="927" y="651" width="2" height="12" fill="#c0c0c0"/>
<rect x="943" y="651" width="2" height="6" fill="#c0c0c0"/>
<rect x="959" y="651" width="2" height="5" fill="#c0c0c0"/>
<rect x="975" y="651" width="2" height="3" fill="#c0c0c0"/>
<rect x="991" y="651" width="2" height="6" fill="#c0c0c0"/>
<rect x="1007" y="651" width="2" height="1" fill="#c0c0c0"/>
<rect x="1023" y="641" width="2" height="10" fill="#c0c0c0"/>
<rect x="1039" y="632" width="2" height="19" fill="#c0c0c0"/>
<rect x="1055" y="625" width="2" height="26" fill="#c0c0c0"/>
<rect x="1071" y="622" width="2" height="29" fill="#c0c0c0"/>
<rect x="1087" y="624" width="2" height="27" fill="#c0c0c0"/>
<rect x="1103" y="625" width="2" height="26" fill="#c0c0c0"/>
<rect x="1119" y="625" width="2" height="26" fill="#c0c0c0"/>
<rect x="1135" y="623" width="2" height="28" fill="#c0c0c0"/>
<rect x="1151" y="619" width="2" height="32" fill="#c0c0c0"/>
<rect x="1167" y="618" width="2" height="33" fill="#c0c0c0"/>
<rect x="1183" y="611" width="2" height="40" fill="#c0c0c0"/>
<rect x="1199" y="602" width="2" height="49" fill="#c0c0c0"/>
<rect x="1215" y="597" width="2" height="54" fill="#c0c0c0"/>
<rect x="1231" y="593" width="2" height="58" fill="#c0c0c0"/>
<rect x="1247" y="592" width="2" height="59" fill="#c0c0c0"/>
<rect x="1263" y="595" width="2" height="56" fill="#c0c0c0"/>
<rect x="1279" y="598" width="2" height="53" fill="#c0c0c0"/>
<rect x="1295" y="603" width="2" height="48" fill="#c0c0c0"/>
<rect x="1311" y="606" width="2" height="45" fill="#c0c0c0"/>
<rect x="1327" y="612" width="2" height="39" fill="#c0c0c0"/>
<rect x="1343" y="614" width="2" height="37" fill="#c0c0c0"/>
<rect x="1359" y="617" width="2" height="34" fill="#c0c0c0"/>
<rect x="1375" y="624" width="2" height="27" fill="#c0c0c0"/>
<rect x="1391" y="642" width="2" height="9" fill="#c0c0c0"/>
<rect x="1407" y="651" width="2" height="6" fill="#c0c0c0"/>
<rect x="1423" y="651" width="2" height="17" fill="#c0c0c0"/>
<polyline points="0.5,673.1 16.5,669.7 32.5,668.1 48.5,666.9 64.5,666.9 80.5,668.7 96.5,671.7 112.5,677.1 128.5,681.7 144.5,686.7 160.5,691.1 176.5,696.8 192.5,702.8 208.5,707.4 224.5,710.8 240.5,712.8 256.5,715.8 272.5,718.0 288.5,722.0 304.5,725.2 320.5,730.0 336.5,733.8 352.5,736.8 368.5,739.8 384.5,742.5 400.5,744.9 416.5,746.9 432.5,748.5 448.5,749.9 464.5,750.9 480.5,750.9 496.5,750.1 512.5,749.9 528.5,748.9 544.5,746.9 560.5,744.9 576.5,741.3 592.5,737.2 608.5,733.8 624.5,731.8 640.5,730.8 656.5,730.8 672.5,729.2 688.5,727.8 704.5,725.8 720.5,724.0 736.5,721.8 752.5,718.8 768.5,715.2 784.5,710.4 800.5,706.0 816.5,702.0 832.5,697.8 848.5,694.8 864.5,692.7 880.5,690.7 896.5,688.9 912.5,686.3 928.5,682.3 944.5,678.7 960.5,674.9 976.5,670.7 992.5,667.9 1008.5,664.3 1024.5,659.3 1040.5,654.7 1056.5,649.7 1072.5,644.2 1088.5,640.8 1104.5,638.6 1120.5,634.2 1136.5,631.0 1152.5,627.2 1168.5,624.6 1184.5,621.8 1200.5,620.2 1216.5,617.2 1232.5,614.0 1248.5,610.2 1264.5,606.6 1280.5,603.9 1296.5,601.9 1312.5,599.9 1328.5,600.9 1344.5,601.7 1360.5,603.6 1376.5,608.0 1392.5,613.0 1408.5,619.6 1424.5,627.0" fill="none" stroke="#ff0000" stroke-width="1" stroke-dasharray="3,3"/>
<line x1="1" y1="800.5" x2="1628" y2="800.5" stroke="#c0c0c0" stroke-width="1" stroke-dasharray="3,3"/>
<line x1="1" y1="847.5" x2="1628" y2="847.5" stroke="#c0c0c0" stroke-width="1" stroke-dasharray="3,3"/>
<line x1="1" y1="903.5" x2="1628" y2="903.5" stroke="#c0c0c0" stroke-width="1" stroke-dasharray="3,3"/>
<polyline points="0.5,851.6 16.5,851.6 32.5,848.6 48.5,864.8 64.5,872.9 80.5,888.3 96.5,890.7 112.5,878.3 128.5,870.6 144.5,869.2 160.5,867.2 176.5,871.2 192.5,877.7 208.5,876.3 224.5,878.3 240.5,886.3 256.5,888.3 272.5,889.3 288.5,896.7 304.5,881.3 320.5,883.7 336.5,880.3 352.5,882.3 368.5,883.7 384.5,885.3 400.5,894.3 416.5,879.3 432.5,886.7 448.5,875.3 464.5,870.6 480.5,872.3 496.5,872.3 512.5,872.3 528.5,879.7 544.5,858.2 560.5,867.2 576.5,861.2 592.5,865.2 608.5,866.6 624.5,878.7 640.5,871.2 656.5,875.7 672.5,856.2 688.5,853.2 704.5,855.6 720.5,853.2 736.5,855.6 752.5,852.2 768.5,854.2 784.5,859.6 800.5,865.6 816.5,853.2 832.5,854.6 848.5,857.6 864.5,856.2 880.5,858.6 896.5,845.6 912.5,837.6 928.5,841.2 944.5,838.6 960.5,848.6 976.5,846.2 992.5,853.6 1008.5,839.6 1024.5,831.6 1040.5,830.2 1056.5,829.2 1072.5,834.2 1088.5,845.6 1104.5,842.2 1120.5,839.2 1136.5,836.6 1152.5,831.6 1168.5,837.6 1184.5,826.2 1200.5,820.5 1216.5,824.1 1232.5,823.1 1248.5,827.6 1264.5,835.2 1280.5,835.2 1296.5,840.0 1312.5,838.2 1328.5,845.6 1344.5,838.2 1360.5,841.2 1376.5,852.2 1392.5,872.3 1408.5,870.4 1424.5,870.4" fill="none" stroke="#1e90ff" stroke-width="1"/>
<rect x="0" y="928" width="1" height="4" fill="#000"/>
<rect x="64" y="928" width="1" height="4" fill="#000"/>
<rect x="128" y="928" width="1" height="4" fill="#000"/>
<rect x="192" y="928" width="1" height="4" fill="#000"/>
<rect x="256" y="928" width="1" height="4" fill="#000"/>
<rect x="320" y="928" width="1" height="4" fill="#000"/>
<rect x="384" y="928" width="1" height="4" fill="#000"/>
<rect x="448" y="928" width="1" height="4" fill="#000"/>
<rect x="512" y="928" width="1" height="4" fill="#000"/>
<rect x="576" y="928" width="1" height="4" fill="#000"/>
<rect x="640" y="928" width="1" height="4" fill="#000"/>
<rect x="704" y="928" width="1" height="4" fill="#000"/>
<rect x="768" y="928" width="1" height="4" fill="#000"/>
<rect x="832" y="928" width="1" height="4" fill="#000"/>
<rect x="896" y="928" width="1" height="4" fill="#000"/>
<rect x="960" y="928" width="1" height="4" fill="#000"/>
<rect x="1024" y="928" width="1" height="4" fill="#000"/>
<rect x="1088" y="928" width="1" height="4" fill="#000"/>
<rect x="1152" y="928" width="1" height="4" fill="#000"/>
<rect x="1216" y="928" width="1" height="4" fill="#000"/>
<rect x="1280" y="928" width="1" height="4" fill="#000"/>
<rect x="1344" y="928" width="1" height="4" fill="#000"/>
<rect x="1408" y="928" width="1" height="4" fill="#000"/>
</g>
<text transform="translate(0,939.6) rotate(0.03) scale(1,1.08)" font-size="9.5" fill="#000" stroke="#000" stroke-width="0.12" text-anchor="start">3 May 2019</text>
<text transform="translate(63,939.6) rotate(0.03) scale(1,1.08)" font-size="9.5" fill="#000" stroke="#000" stroke-width="0.12" text-anchor="start">3 May 16:00</text>
<text transform="translate(127,939.6) rotate(0.03) scale(1,1.08)" font-size="9.5" fill="#000" stroke="#000" stroke-width="0.12" text-anchor="start">6 May 08:00</text>
<text transform="translate(191,939.6) rotate(0.03) scale(1,1.08)" font-size="9.5" fill="#000" stroke="#000" stroke-width="0.12" text-anchor="start">7 May 00:00</text>
<text transform="translate(255,939.6) rotate(0.03) scale(1,1.08)" font-size="9.5" fill="#000" stroke="#000" stroke-width="0.12" text-anchor="start">7 May 16:00</text>
<text transform="translate(319,939.6) rotate(0.03) scale(1,1.08)" font-size="9.5" fill="#000" stroke="#000" stroke-width="0.12" text-anchor="start">8 May 08:00</text>
<text transform="translate(383,939.6) rotate(0.03) scale(1,1.08)" font-size="9.5" fill="#000" stroke="#000" stroke-width="0.12" text-anchor="start">9 May 00:00</text>
<text transform="translate(447,939.6) rotate(0.03) scale(1,1.08)" font-size="9.5" fill="#000" stroke="#000" stroke-width="0.12" text-anchor="start">9 May 16:00</text>
<text transform="translate(511,939.6) rotate(0.03) scale(1,1.08)" font-size="9.5" fill="#000" stroke="#000" stroke-width="0.12" text-anchor="start">10 May 08:00</text>
<text transform="translate(575,939.6) rotate(0.03) scale(1,1.08)" font-size="9.5" fill="#000" stroke="#000" stroke-width="0.12" text-anchor="start">13 May 00:00</text>
<text transform="translate(639,939.6) rotate(0.03) scale(1,1.08)" font-size="9.5" fill="#000" stroke="#000" stroke-width="0.12" text-anchor="start">13 May 16:00</text>
<text transform="translate(703,939.6) rotate(0.03) scale(1,1.08)" font-size="9.5" fill="#000" stroke="#000" stroke-width="0.12" text-anchor="start">14 May 08:00</text>
<text transform="translate(767,939.6) rotate(0.03) scale(1,1.08)" font-size="9.5" fill="#000" stroke="#000" stroke-width="0.12" text-anchor="start">15 May 00:00</text>
<text transform="translate(831,939.6) rotate(0.03) scale(1,1.08)" font-size="9.5" fill="#000" stroke="#000" stroke-width="0.12" text-anchor="start">15 May 16:00</text>
<text transform="translate(895,939.6) rotate(0.03) scale(1,1.08)" font-size="9.5" fill="#000" stroke="#000" stroke-width="0.12" text-anchor="start">16 May 08:00</text>
<text transform="translate(959,939.6) rotate(0.03) scale(1,1.08)" font-size="9.5" fill="#000" stroke="#000" stroke-width="0.12" text-anchor="start">17 May 00:00</text>
<text transform="translate(1023,939.6) rotate(0.03) scale(1,1.08)" font-size="9.5" fill="#000" stroke="#000" stroke-width="0.12" text-anchor="start">17 May 16:00</text>
<text transform="translate(1087,939.6) rotate(0.03) scale(1,1.08)" font-size="9.5" fill="#000" stroke="#000" stroke-width="0.12" text-anchor="start">20 May 08:00</text>
<text transform="translate(1151,939.6) rotate(0.03) scale(1,1.08)" font-size="9.5" fill="#000" stroke="#000" stroke-width="0.12" text-anchor="start">21 May 00:00</text>
<text transform="translate(1215,939.6) rotate(0.03) scale(1,1.08)" font-size="9.5" fill="#000" stroke="#000" stroke-width="0.12" text-anchor="start">21 May 16:00</text>
<text transform="translate(1279,939.6) rotate(0.03) scale(1,1.08)" font-size="9.5" fill="#000" stroke="#000" stroke-width="0.12" text-anchor="start">22 May 08:00</text>
<text transform="translate(1343,939.6) rotate(0.03) scale(1,1.08)" font-size="9.5" fill="#000" stroke="#000" stroke-width="0.12" text-anchor="start">23 May 00:00</text>
<text transform="translate(1407,939.6) rotate(0.03) scale(1,1.08)" font-size="9.5" fill="#000" stroke="#000" stroke-width="0.12" text-anchor="start">23 May 16:00</text>
<text transform="translate(4,595) rotate(0.03) scale(1,1.08)" font-size="9.33" fill="#000" stroke="#000" stroke-width="0.12" text-anchor="start">MACD(12,26,9) -0.0560 0.0824</text>
<text transform="translate(4,780) rotate(0.03) scale(1,1.08)" font-size="9.33" fill="#000" stroke="#000" stroke-width="0.12" text-anchor="start">RSI(14) 35.4599</text>
<defs><linearGradient id="gT" x1="0" y1="0" x2="0" y2="1"><stop offset="0" stop-color="#f85454"/><stop offset="1" stop-color="#e23636"/></linearGradient><linearGradient id="gB" x1="0" y1="0" x2="0" y2="1"><stop offset="0" stop-color="#dc3030"/><stop offset="0.55" stop-color="#c81818"/><stop offset="1" stop-color="#b00000"/></linearGradient><linearGradient id="gS" x1="0" y1="0" x2="0" y2="1"><stop offset="0" stop-color="#f2f2f2"/><stop offset="1" stop-color="#e4e4e4"/></linearGradient></defs>
<g shape-rendering="crispEdges">
<rect x="1" y="45" width="223" height="67" fill="#fff"/>
<rect x="3" y="47" width="52" height="24" fill="url(#gT)"/>
<rect x="3" y="47" width="52" height="1" fill="#d63030"/>
<rect x="3" y="47" width="1" height="24" fill="#d63030"/>
<rect x="54" y="47" width="1" height="24" fill="#d63030"/>
<rect x="3" y="71" width="109" height="40" fill="url(#gB)"/>
<rect x="7" y="70" width="44" height="1" fill="#b81414"/>
<rect x="7" y="71" width="44" height="1" fill="#f07070"/>
<rect x="170" y="47" width="52" height="24" fill="url(#gT)"/>
<rect x="170" y="47" width="52" height="1" fill="#d63030"/>
<rect x="170" y="47" width="1" height="24" fill="#d63030"/>
<rect x="221" y="47" width="1" height="24" fill="#d63030"/>
<rect x="114" y="71" width="108" height="40" fill="url(#gB)"/>
<rect x="174" y="70" width="44" height="1" fill="#b81414"/>
<rect x="174" y="71" width="44" height="1" fill="#f07070"/>
<rect x="57" y="47" width="111" height="22" fill="#a9b0b8"/>
<rect x="58" y="48" width="20" height="20" fill="url(#gS)"/>
<rect x="79" y="48" width="67" height="20" fill="#fff"/>
<rect x="147" y="48" width="20" height="20" fill="url(#gS)"/>
</g>
<polygon points="65,56 70.5,56 67.75,59.2" fill="#000"/>
<polygon points="154,59.3 159.5,59.3 156.75,56.1" fill="#000"/>
<text x="143" y="62" font-size="12" text-anchor="end" fill="#1a1a1a">1.00</text>
<text x="28.3" y="63" font-size="11.6" text-anchor="middle" fill="#fff" textLength="26" lengthAdjust="spacingAndGlyphs">SELL</text>
<text x="195" y="63" font-size="11.6" text-anchor="middle" fill="#fff" textLength="23.5" lengthAdjust="spacingAndGlyphs">BUY</text>
<text x="26.6" y="102" font-size="12" font-weight="bold" fill="#fff">109</text>
<text transform="translate(51.3,102.7) scale(1,1.14)" font-size="31.2" fill="#fff">59</text>
<text x="90.2" y="85.4" font-size="11.5" font-weight="bold" fill="#fff">1</text>
<text x="136.6" y="102" font-size="12" font-weight="bold" fill="#fff">109</text>
<text transform="translate(160.8,102.7) scale(1,1.14)" font-size="31.2" fill="#fff">61</text>
<text x="200.6" y="85.4" font-size="11.5" font-weight="bold" fill="#fff">0</text>
<polygon points="3,38.6 10,38.6 6.5,34" fill="#000"/>
<text transform="translate(15.6,39) rotate(0.03) scale(1,1.1)" font-size="9.33" fill="#000" stroke="#000" stroke-width="0.12" textLength="53.2" lengthAdjust="spacingAndGlyphs">USDJPY-,H4</text>
<text transform="translate(75.2,39) rotate(0.03) scale(1,1.1)" font-size="9.33" fill="#000" stroke="#000" stroke-width="0.12" textLength="32.4" lengthAdjust="spacingAndGlyphs">109.597</text>
<text transform="translate(111.9,39) rotate(0.03) scale(1,1.1)" font-size="9.33" fill="#000" stroke="#000" stroke-width="0.12" textLength="32.4" lengthAdjust="spacingAndGlyphs">109.623</text>
<text transform="translate(147.6,39) rotate(0.03) scale(1,1.1)" font-size="9.33" fill="#000" stroke="#000" stroke-width="0.12" textLength="32.4" lengthAdjust="spacingAndGlyphs">109.525</text>
<text transform="translate(183.3,39) rotate(0.03) scale(1,1.1)" font-size="9.33" fill="#000" stroke="#000" stroke-width="0.12" textLength="32.4" lengthAdjust="spacingAndGlyphs">109.591</text>
<defs><linearGradient id="gGold" x1="0" y1="0" x2="1" y2="1"><stop offset="0" stop-color="#fbe37a"/><stop offset="0.6" stop-color="#e6b422"/><stop offset="1" stop-color="#c58a12"/></linearGradient><linearGradient id="gGrn" x1="0" y1="0" x2="1" y2="0"><stop offset="0" stop-color="#0c9c0c"/><stop offset="0.5" stop-color="#3ee63e"/><stop offset="1" stop-color="#0c9c0c"/></linearGradient><linearGradient id="gBlu" x1="0" y1="0" x2="0" y2="1"><stop offset="0" stop-color="#5ab4f5"/><stop offset="1" stop-color="#1565c8"/></linearGradient><radialGradient id="gLens" cx="0.4" cy="0.35" r="0.7"><stop offset="0" stop-color="#f4fbff"/><stop offset="1" stop-color="#b9dcf5"/></radialGradient><linearGradient id="gHat" x1="0" y1="0" x2="0" y2="1"><stop offset="0" stop-color="#7cc4ee"/><stop offset="1" stop-color="#3a8fcf"/></linearGradient><linearGradient id="gFace" x1="0" y1="0" x2="1" y2="1"><stop offset="0" stop-color="#fff3a0"/><stop offset="1" stop-color="#f0b818"/></linearGradient><pattern id="chk" width="2" height="2" patternUnits="userSpaceOnUse"><rect width="2" height="2" fill="#fff"/><rect width="1" height="1" fill="#f0f0f0"/><rect x="1" y="1" width="1" height="1" fill="#f0f0f0"/></pattern></defs>
<g shape-rendering="crispEdges">
<rect x="0" y="0" width="1675" height="23" fill="#f0f0f0"/>
<rect x="0" y="23" width="1675" height="1" fill="#b2b2b2"/>
<rect x="0" y="24" width="1675" height="1" fill="#6a6a6a"/>
<rect x="225" y="0" width="1" height="23" fill="#a0a0a0"/><rect x="226" y="0" width="1" height="23" fill="#fff"/>
<rect x="593" y="0" width="1" height="23" fill="#a0a0a0"/><rect x="594" y="0" width="1" height="23" fill="#fff"/>
<rect x="899" y="0" width="1" height="23" fill="#a0a0a0"/><rect x="900" y="0" width="1" height="23" fill="#fff"/>
<rect x="229" y="1" width="3" height="1" fill="#a8a8a8"/>
<rect x="229" y="3" width="3" height="1" fill="#a8a8a8"/>
<rect x="229" y="5" width="3" height="1" fill="#a8a8a8"/>
<rect x="229" y="7" width="3" height="1" fill="#a8a8a8"/>
<rect x="229" y="9" width="3" height="1" fill="#a8a8a8"/>
<rect x="229" y="11" width="3" height="1" fill="#a8a8a8"/>
<rect x="229" y="13" width="3" height="1" fill="#a8a8a8"/>
<rect x="229" y="15" width="3" height="1" fill="#a8a8a8"/>
<rect x="229" y="17" width="3" height="1" fill="#a8a8a8"/>
<rect x="229" y="19" width="3" height="1" fill="#a8a8a8"/>
<rect x="597" y="1" width="3" height="1" fill="#a8a8a8"/>
<rect x="597" y="3" width="3" height="1" fill="#a8a8a8"/>
<rect x="597" y="5" width="3" height="1" fill="#a8a8a8"/>
<rect x="597" y="7" width="3" height="1" fill="#a8a8a8"/>
<rect x="597" y="9" width="3" height="1" fill="#a8a8a8"/>
<rect x="597" y="11" width="3" height="1" fill="#a8a8a8"/>
<rect x="597" y="13" width="3" height="1" fill="#a8a8a8"/>
<rect x="597" y="15" width="3" height="1" fill="#a8a8a8"/>
<rect x="597" y="17" width="3" height="1" fill="#a8a8a8"/>
<rect x="597" y="19" width="3" height="1" fill="#a8a8a8"/>
<rect x="903" y="1" width="3" height="1" fill="#a8a8a8"/>
<rect x="903" y="3" width="3" height="1" fill="#a8a8a8"/>
<rect x="903" y="5" width="3" height="1" fill="#a8a8a8"/>
<rect x="903" y="7" width="3" height="1" fill="#a8a8a8"/>
<rect x="903" y="9" width="3" height="1" fill="#a8a8a8"/>
<rect x="903" y="11" width="3" height="1" fill="#a8a8a8"/>
<rect x="903" y="13" width="3" height="1" fill="#a8a8a8"/>
<rect x="903" y="15" width="3" height="1" fill="#a8a8a8"/>
<rect x="903" y="17" width="3" height="1" fill="#a8a8a8"/>
<rect x="903" y="19" width="3" height="1" fill="#a8a8a8"/>
<rect x="264" y="0" width="24" height="21" fill="url(#chk)"/>
<rect x="263" y="0" width="1" height="21" fill="#a0a0a0"/>
<rect x="263" y="21" width="26" height="1" fill="#fff"/>
<rect x="288" y="0" width="1" height="21" fill="#fff"/>
<rect x="416" y="0" width="24" height="21" fill="url(#chk)"/>
<rect x="415" y="0" width="1" height="21" fill="#a0a0a0"/>
<rect x="415" y="21" width="26" height="1" fill="#fff"/>
<rect x="440" y="0" width="1" height="21" fill="#fff"/>
<rect x="444" y="0" width="24" height="21" fill="url(#chk)"/>
<rect x="443" y="0" width="1" height="21" fill="#a0a0a0"/>
<rect x="443" y="21" width="26" height="1" fill="#fff"/>
<rect x="468" y="0" width="1" height="21" fill="#fff"/>
<rect x="604" y="0" width="24" height="21" fill="url(#chk)"/>
<rect x="603" y="0" width="1" height="21" fill="#a0a0a0"/>
<rect x="603" y="21" width="26" height="1" fill="#fff"/>
<rect x="628" y="0" width="1" height="21" fill="#fff"/>
<rect x="1050" y="0" width="25" height="21" fill="url(#chk)"/>
<rect x="1049" y="0" width="1" height="21" fill="#a0a0a0"/>
<rect x="1049" y="21" width="27" height="1" fill="#fff"/>
<rect x="1075" y="0" width="1" height="21" fill="#fff"/>
<rect x="320" y="0" width="1" height="21" fill="#a0a0a0"/>
<rect x="410" y="0" width="1" height="21" fill="#a0a0a0"/>
<rect x="472" y="0" width="1" height="21" fill="#a0a0a0"/>
<rect x="660" y="0" width="1" height="21" fill="#a0a0a0"/>
</g>
<g>
<path d="M-0.5,3.5 H7.5 L10.5,6.5 V15.5 H-0.5 Z" fill="#fff" stroke="#8c8c8c" stroke-width="1"/>
<path d="M7.5,3.5 V6.5 H10.5" fill="#e4e4e4" stroke="#8c8c8c" stroke-width="1"/>
<rect x="1" y="6" width="4" height="1" fill="#9a9a9a"/><rect x="1" y="9" width="6" height="1" fill="#b0b0b0"/><rect x="1" y="12" width="4" height="1" fill="#b0b0b0"/>
<path d="M7.5,10 H11 V13.3 H14.5 V16.8 H11 V20.3 H7.5 V16.8 H4 V13.3 H7.5 Z" fill="url(#gGrn)" stroke="#0a7a0a" stroke-width="0.8"/>
</g>
<text x="18" y="14" font-size="12" fill="#000">新订单</text>
<defs><radialGradient id="gGoldR" cx="0.42" cy="0.42" r="0.65"><stop offset="0" stop-color="#ffe85c"/><stop offset="0.5" stop-color="#edbe2c"/><stop offset="1" stop-color="#c48c14"/></radialGradient><linearGradient id="gCloud" x1="0" y1="0" x2="0" y2="1"><stop offset="0" stop-color="#ffffff"/><stop offset="1" stop-color="#c4d0e6"/></linearGradient><linearGradient id="gSweep" x1="0" y1="0" x2="0.6" y2="1"><stop offset="0" stop-color="#cfe8cf"/><stop offset="1" stop-color="#2f9a2f"/></linearGradient></defs>
<path d="M66.2,12.8 L74.2,17.4 L81.6,11 L82.3,12.8 L74.4,19.3 L66,14.2 Z" fill="#a8700f" stroke="#8a5a0a" stroke-width="0.5" stroke-linejoin="round"/>
<path d="M66.6,13.4 L74.3,18.1 L81.9,11.9" fill="none" stroke="#e8c878" stroke-width="0.6"/>
<path d="M70,4.6 Q71,3.7 72.2,4.3 L81.6,10.9 L74.2,17.4 L66.2,12.8 Q69.6,9.6 70,4.6 Z" fill="url(#gGoldR)" stroke="#a87810" stroke-width="0.8" stroke-linejoin="round"/>
<path d="M96.4,4.6 L99.2,2.8 H106.8 V11.4 L104.6,13 H96.4 Z" fill="#1f8af0" stroke="#1874d8" stroke-width="0.6"/>
<path d="M96.4,4.6 L99.2,2.8 V12.6 L96.4,13 Z" fill="#5cb6ff"/>
<rect x="100.2" y="5" width="5.2" height="1.2" fill="#e8f4ff"/><rect x="100.2" y="5" width="1.2" height="6.4" fill="#d4eaff"/><rect x="102" y="7.6" width="3.4" height="1" fill="#cfe6ff"/>
<path d="M97,18.6 a3.1,3.1 0 0 1 0.3,-6.1 a3.7,3.7 0 0 1 6.6,-1.4 a2.9,2.9 0 0 1 3.9,1.9 a2.8,2.8 0 0 1 -0.4,5.6 Z" fill="url(#gCloud)" stroke="#5f7fbe" stroke-width="0.9"/>
<circle cx="130" cy="11" r="7.8" fill="#f4f7fc"/>
<path d="M130,11 L137.4,8.6 A7.8,7.8 0 0 1 130,18.8 Z" fill="url(#gSweep)" opacity="0.62"/>
<g fill="none">
<path d="M130,3.2 A7.8,7.8 0 0 0 130,18.8" stroke="#a9c0ea" stroke-width="1"/>
<path d="M130,3.2 A7.8,7.8 0 0 1 137.8,11" stroke="#b4ccb8" stroke-width="1"/>
<path d="M137.8,11 A7.8,7.8 0 0 1 130,18.8" stroke="#4aa44a" stroke-width="1"/>
<path d="M130,5.8 A5.2,5.2 0 0 0 130,16.2" stroke="#6f92e0" stroke-width="1.1"/>
<path d="M130,5.8 A5.2,5.2 0 0 1 135.2,11" stroke="#a8c4b0" stroke-width="1"/>
<path d="M135.2,11 A5.2,5.2 0 0 1 130,16.2" stroke="#3f9a3f" stroke-width="1"/>
<path d="M130,8.2 A2.8,2.8 0 0 1 130,13.8" stroke="#7fb88a" stroke-width="0.9"/>
<path d="M130,8.2 A2.8,2.8 0 0 0 130,13.8" stroke="#4a74d8" stroke-width="1"/>
</g>
<circle cx="129.8" cy="10.6" r="1.7" fill="#2450c0"/>
<rect x="129.4" y="11.2" width="1.7" height="7.8" fill="#22a022"/>
<path d="M150,10 Q157.5,13.6 164.6,9.6 L158,18.4 Q156.6,19 155.2,17.4 Z" fill="url(#gFace)" stroke="#c89412" stroke-width="0.7"/>
<path d="M149.4,9 Q150.4,6.6 153.4,6.6 Q153.8,3.2 157.4,3.2 Q161,3.2 161.4,6.2 Q164.8,5.8 165.4,7.8 Q162,11.6 156.4,11 Q151.6,10.8 149.4,9 Z" fill="url(#gHat)" stroke="#2f7dbd" stroke-width="0.7"/>
<path d="M153.6,6.8 Q157.4,8.6 161.2,6.4" fill="none" stroke="#2f7dbd" stroke-width="0.6"/>
<circle cx="161.6" cy="14.6" r="4" fill="#e02a12" stroke="#b01c0a" stroke-width="0.6"/>
<rect x="160" y="13" width="3.2" height="3.2" fill="#fff"/>
<text x="170.3" y="14" font-size="11.8" fill="#000">自动交易</text>
<g shape-rendering="crispEdges" fill="#505050"><rect x="243" y="6" width="1" height="13"/><rect x="242" y="7" width="3" height="1"/><rect x="243" y="5" width="1" height="1"/><rect x="241" y="16" width="14" height="1"/><rect x="253" y="15" width="1" height="3"/><rect x="252" y="15" width="1" height="3" opacity="0.5"/></g>
<g shape-rendering="crispEdges" fill="#16961e"><rect x="249" y="6" width="1" height="9"/><rect x="249" y="6" width="1.4" height="9" opacity="0.5"/><rect x="250" y="7" width="2" height="1"/><rect x="247" y="13" width="2" height="1"/></g>
<g shape-rendering="crispEdges" fill="#505050"><rect x="271" y="6" width="1" height="13"/><rect x="270" y="7" width="3" height="1"/><rect x="271" y="5" width="1" height="1"/><rect x="269" y="16" width="14" height="1"/><rect x="281" y="15" width="1" height="3"/><rect x="280" y="15" width="1" height="3" opacity="0.5"/></g>
<g shape-rendering="crispEdges"><rect x="277" y="3" width="1" height="12" fill="#16961e"/><rect x="275" y="6" width="5" height="7" fill="#16961e"/><rect x="276" y="7" width="3" height="5" fill="#4be24b"/></g>
<g shape-rendering="crispEdges" fill="#505050"><rect x="299" y="6" width="1" height="13"/><rect x="298" y="7" width="3" height="1"/><rect x="299" y="5" width="1" height="1"/><rect x="297" y="16" width="14" height="1"/><rect x="309" y="15" width="1" height="3"/><rect x="308" y="15" width="1" height="3" opacity="0.5"/></g>
<path d="M298.5,13.6 C301,12.4 301.8,8.4 304.2,8.4 C306,8.4 307.6,11.4 310,12.2" fill="none" stroke="#2a962a" stroke-width="1.1"/>
<line x1="338.8" y1="13" x2="343.8" y2="18" stroke="#b8860b" stroke-width="3.2" stroke-linecap="round"/>
<line x1="339.1" y1="12.7" x2="343.5" y2="17.1" stroke="#f0d060" stroke-width="1.4" stroke-linecap="round"/>
<circle cx="334.8" cy="8.9" r="5.4" fill="url(#gLens)" stroke="#2f7fd4" stroke-width="1.4"/>
<rect x="331.8" y="8.2" width="6" height="1.5" fill="#3b78bf"/>
<rect x="334.05" y="5.9" width="1.5" height="6" fill="#3b78bf"/>
<line x1="366.9" y1="13" x2="371.9" y2="18" stroke="#b8860b" stroke-width="3.2" stroke-linecap="round"/>
<line x1="367.2" y1="12.7" x2="371.59999999999997" y2="17.1" stroke="#f0d060" stroke-width="1.4" stroke-linecap="round"/>
<circle cx="362.9" cy="8.9" r="5.4" fill="url(#gLens)" stroke="#2f7fd4" stroke-width="1.4"/>
<rect x="359.9" y="8.2" width="6" height="1.5" fill="#3b78bf"/>
<g shape-rendering="crispEdges"><rect x="385" y="3" width="8" height="8" fill="#2f9c1c"/><rect x="386" y="6" width="6" height="4" fill="#fff"/><rect x="387" y="7" width="4" height="1" fill="#8fd070"/><rect x="386" y="4" width="1" height="1" fill="#8fd070"/></g>
<g shape-rendering="crispEdges"><rect x="393" y="3" width="8" height="8" fill="#1c4fc8"/><rect x="394" y="6" width="6" height="4" fill="#fff"/><rect x="395" y="7" width="4" height="1" fill="#8fb0f0"/><rect x="394" y="4" width="1" height="1" fill="#8fb0f0"/></g>
<g shape-rendering="crispEdges"><rect x="385" y="11" width="8" height="8" fill="#1c4fc8"/><rect x="386" y="14" width="6" height="4" fill="#fff"/><rect x="387" y="15" width="4" height="1" fill="#8fb0f0"/><rect x="386" y="12" width="1" height="1" fill="#8fb0f0"/></g>
<g shape-rendering="crispEdges"><rect x="393" y="11" width="8" height="8" fill="#2f9c1c"/><rect x="394" y="14" width="6" height="4" fill="#fff"/><rect x="395" y="15" width="4" height="1" fill="#8fd070"/><rect x="394" y="12" width="1" height="1" fill="#8fd070"/></g>
<g shape-rendering="crispEdges" fill="#505050"><rect x="423" y="6" width="1" height="13"/><rect x="422" y="7" width="3" height="1"/><rect x="423" y="5" width="1" height="1"/><rect x="421" y="16" width="14" height="1"/><rect x="433" y="15" width="1" height="3"/><rect x="432" y="15" width="1" height="3" opacity="0.5"/></g>
<polygon points="428,7 432.6,10.5 428,14" fill="#5fdc5f" stroke="#169616" stroke-width="0.9"/>
<g shape-rendering="crispEdges" fill="#505050"><rect x="451" y="6" width="1" height="13"/><rect x="450" y="7" width="3" height="1"/><rect x="451" y="5" width="1" height="1"/><rect x="449" y="16" width="14" height="1"/><rect x="461" y="15" width="1" height="3"/><rect x="460" y="15" width="1" height="3" opacity="0.5"/></g>
<rect x="457" y="5" width="1" height="10" fill="#1a6fb0" shape-rendering="crispEdges"/>
<path d="M463,10.5 H459.4 M461.6,8.4 L459.2,10.5 L461.6,12.6" fill="none" stroke="#d0400a" stroke-width="1.2"/>
<path d="M482.5,3.5 H489.5 L492.5,6.5 V16.5 H482.5 Z" fill="#fff" stroke="#8c8c8c" stroke-width="1"/>
<path d="M489.5,3.5 V6.5 H492.5" fill="#e4e4e4" stroke="#8c8c8c" stroke-width="1"/>
<path d="M485.6,6 Q484,6 484.2,8 V13 Q484,15 485.6,15" fill="none" stroke="#6a6a50" stroke-width="0.9"/>
<path d="M490.2,9.6 H493.8 V13.1 H497.6 V16.7 H493.8 V20.4 H490.2 V16.7 H486.4 V13.1 H490.2 Z" fill="url(#gGrn)" stroke="#0a7a0a" stroke-width="0.8"/>
<polygon points="503.9,10 509.5,10 506.7,13.2" fill="#000"/>
<circle cx="528" cy="11" r="6.6" fill="#fff" stroke="#1a68cc" stroke-width="2.3"/>
<circle cx="528" cy="11" r="7.9" fill="none" stroke="#0d3f8f" stroke-width="0.5"/>
<path d="M528,7 V11.2 H531" fill="none" stroke="#222" stroke-width="1.1"/>
<path d="M525.8,14.2 Q528,15.6 530.2,14.2" fill="none" stroke="#8cc0ff" stroke-width="0.8"/>
<polygon points="542.8,10 548.4,10 545.5999999999999,13.2" fill="#000"/>
<g shape-rendering="crispEdges"><rect x="559" y="4" width="16" height="14" fill="#2f74c6"/><rect x="560" y="5" width="14" height="1" fill="#9cc8f4"/><rect x="560" y="7" width="14" height="5" fill="#fff"/><rect x="560" y="13" width="14" height="4" fill="#fff"/></g>
<path d="M561.4,10.4 L563.6,10.2 L565.6,8.8 L567.4,9.6 L569.4,9.2 L572.6,8.4" fill="none" stroke="#b01c10" stroke-width="1.2"/>
<path d="M561.8,15.8 L563.8,14.8 L565.8,15.6 L568.6,13.6 L570.4,14 L572.4,15.8" fill="none" stroke="#18961e" stroke-width="1.1"/>
<polygon points="581.8,10 587.4,10 584.5999999999999,13.2" fill="#000"/>
<path d="M611,4 V16.2 L613.8,13.6 L616,18.4 L617.9,17.5 L615.7,12.9 L619.2,12.4 Z" fill="#4a4a4a"/>
<g shape-rendering="crispEdges" fill="#505050"><rect x="643" y="4" width="1" height="6"/><rect x="643" y="13" width="1" height="6"/><rect x="636" y="11" width="6" height="1"/><rect x="645" y="11" width="6" height="1"/><rect x="643" y="11" width="1" height="1" opacity="0.4"/></g>
<g shape-rendering="crispEdges" fill="#505050"><rect x="677" y="5" width="1" height="13"/><rect x="700" y="11" width="12" height="1"/></g>
<line x1="727.8" y1="18" x2="740" y2="6" stroke="#505050" stroke-width="1.1"/>
<g stroke="#505050" stroke-width="1" fill="none"><line x1="754.4" y1="13.2" x2="762.4" y2="5"/><line x1="756" y1="17.6" x2="767.6" y2="8.6"/><line x1="759.4" y1="17.8" x2="768" y2="10.6"/><path d="M757,16.4 L758.4,10.8 L760.6,13 L762,8 L764,11.2 L765.2,3.4 L766.6,9.8" stroke-width="0.9"/></g>
<text x="764.6" y="20" font-size="6.6" font-weight="bold" fill="#404040">E</text>
<g stroke="#505050" stroke-width="1" stroke-dasharray="1,1" shape-rendering="crispEdges"><line x1="783" y1="4.5" x2="796" y2="4.5"/><line x1="783" y1="7.5" x2="796" y2="7.5"/><line x1="783" y1="11.5" x2="796" y2="11.5"/><line x1="783" y1="15.5" x2="792" y2="15.5"/></g>
<text x="792.6" y="20" font-size="6.6" font-weight="bold" fill="#404040">F</text>
<text x="817.7" y="16" font-size="12.8" fill="#5a5a5a" stroke="#5a5a5a" stroke-width="0.25" text-anchor="middle">A</text>
<rect x="840.5" y="5.5" width="11" height="12" fill="none" stroke="#505050" stroke-width="1" stroke-dasharray="1,1" shape-rendering="crispEdges"/>
<g shape-rendering="crispEdges" fill="#606060"><rect x="842" y="8" width="8" height="1.4"/><rect x="845.3" y="8" width="1.5" height="8"/></g>
<polygon points="870.6,5 874.6,8.6 866.8,8.6" fill="#505050"/><rect x="868.6" y="8.6" width="4" height="1.2" fill="#505050"/>
<polygon points="877.4,17.8 881.2,14.2 873.4,14.2" fill="#505050"/><rect x="875.4" y="13" width="4" height="1.2" fill="#505050"/>
<path d="M869,12.4 L871.2,14.4 L875.6,9.6" fill="none" stroke="#505050" stroke-width="1.2"/>
<polygon points="887.7,10 893.3000000000001,10 890.5,13.2" fill="#000"/>
<text x="921" y="15.2" font-size="9.6" fill="#3c3c3c" text-anchor="middle">M1</text>
<text x="949" y="15.2" font-size="9.6" fill="#3c3c3c" text-anchor="middle">M5</text>
<text x="977" y="15.2" font-size="9.6" fill="#3c3c3c" text-anchor="middle">M15</text>
<text x="1005" y="15.2" font-size="9.6" fill="#3c3c3c" text-anchor="middle">M30</text>
<text x="1033" y="15.2" font-size="9.6" fill="#3c3c3c" text-anchor="middle">H1</text>
<text x="1061" y="15.2" font-size="9.6" fill="#3c3c3c" text-anchor="middle">H4</text>
<text x="1089" y="15.2" font-size="9.6" fill="#3c3c3c" text-anchor="middle">D1</text>
<text x="1117" y="15.2" font-size="9.6" fill="#3c3c3c" text-anchor="middle">W1</text>
<text x="1145" y="15.2" font-size="9.6" fill="#3c3c3c" text-anchor="middle">MN</text>
<line x1="1627.4" y1="11.4" x2="1623" y2="15.4" stroke="#2458d4" stroke-width="2.5" stroke-linecap="round"/>
<circle cx="1630.6" cy="8.3" r="4.1" fill="#f2f2ff" stroke="#2a5fd8" stroke-width="1.2"/>
<defs><linearGradient id="gBub" x1="0" y1="0" x2="0" y2="1"><stop offset="0" stop-color="#ffffff"/><stop offset="1" stop-color="#dcdce4"/></linearGradient></defs>
<path d="M1664.2,12.4 L1666.6,15 L1667.2,12.2 Z" fill="#e4e4ea" stroke="#8c8c8c" stroke-width="0.7"/>
<ellipse cx="1663" cy="8" rx="6.7" ry="4.7" fill="url(#gBub)" stroke="#8a8a8a" stroke-width="0.9"/>
<path d="M1651.6,14.6 L1651.2,17.8 L1654.6,15.2 Z" fill="#e4e4ea" stroke="#8c8c8c" stroke-width="0.7"/>
<ellipse cx="1654.4" cy="11.7" rx="5.2" ry="3.7" fill="url(#gBub)" stroke="#8a8a8a" stroke-width="0.9"/>
</svg>
</body></html>
